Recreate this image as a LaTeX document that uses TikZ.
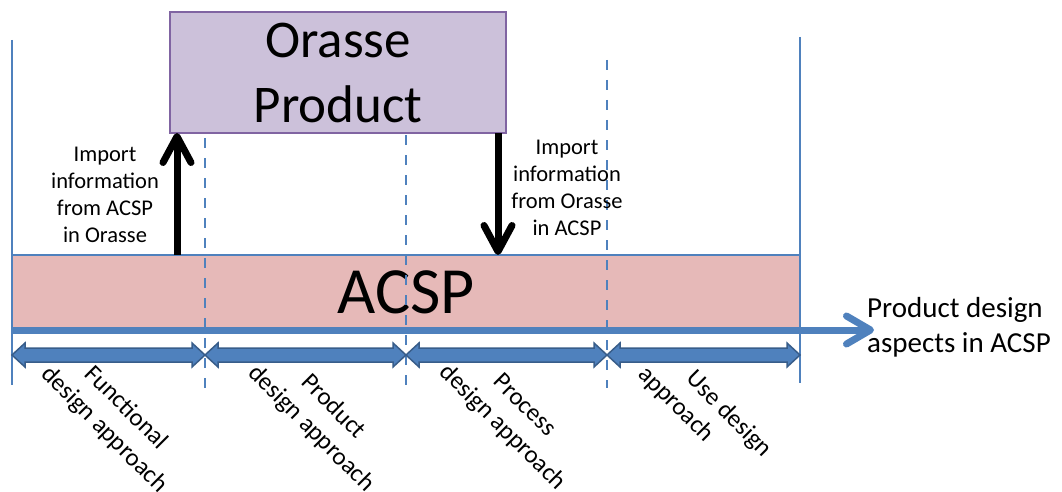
\documentclass[tikz,border=0pt]{standalone}
\usepackage{fontspec}
\setmainfont{Carlito}
\usetikzlibrary{arrows.meta}
\definecolor{acblue}{HTML}{4F81BD}
\definecolor{dkblue}{HTML}{385D8A}
\definecolor{lav}{HTML}{CCC1DA}
\definecolor{purp}{HTML}{8064A2}
\definecolor{pinkf}{HTML}{E6B9B8}
\tikzset{
  box/.style={draw, line width=2pt, outer sep=0pt, inner sep=0pt},
  solidline/.style={draw=acblue, line width=2.5pt},
  dashline/.style={draw=acblue, line width=2.7pt, dash pattern=on 10pt off 10pt},
  dblfill/.style={draw=dkblue, fill=acblue, line width=1.5pt, line join=miter},
  pics/dblarr/.style={code={
    \path[dblfill] (0,0) -- ++(13,-12) -- ++(0,5) -- ++(#1-26,0) -- ++(0,-5)
      -- ++(13,12) -- ++(-13,12) -- ++(0,-5) -- ++(-#1+26,0) -- ++(0,5) -- cycle;
  }},
  blk/.style={line width=7pt, -{Straight Barb[length=26pt,width=28pt,line cap=round,line join=round]}},
  bar/.style={draw=acblue, line width=7pt, -{Straight Barb[length=24pt,width=28pt,line cap=round,line join=round]}},
  small/.style={font=\fontsize{22.5}{27}\selectfont, align=center, inner sep=0pt},
  rot/.style={font=\fontsize{25}{31}\selectfont, align=center, inner sep=0pt, rotate=-45},
}
\begin{document}
\begin{tikzpicture}[x=1pt,y=-1pt]
\useasboundingbox (0,0) rectangle (1062,492);
% ACSP band
\node[box, draw=acblue, fill=pinkf, minimum width=788pt, minimum height=75pt,
  font=\fontsize{66}{79}\selectfont] (acsp) at (406,292.5) {ACSP};
% vertical lines
\draw[solidline] (12,40) -- (12,385);
\draw[solidline] (800,37) -- (800,383);
\draw[dashline] (205,138) -- (205,388);
\draw[dashline] (406,135) -- (406,388);
\draw[dashline] (607,60) -- (607,388);
% thick axis arrow
\coordinate (barend) at (874,330);
\draw[bar] (acsp.south west) -- (barend);
% double arrows
\pic (d1) at (12,355) {dblarr=193};
\pic (d2) at (205,355) {dblarr=201};
\pic (d3) at (406,355) {dblarr=201};
\pic (d4) at (607,355) {dblarr=193};
% Orasse box
\node[box, draw=purp, fill=lav, minimum width=336pt, minimum height=121pt,
  font=\fontsize{53}{65}\selectfont, align=center] (orasse) at (338,72.5) {Orasse\\Product};
% black arrows
\draw[blk] ([xshift=165pt]acsp.north west) -- ([xshift=7pt]orasse.south west);
\draw[blk] ([xshift=-8pt]orasse.south east) -- ([xshift=486pt]acsp.north west);
% labels
\node[small, anchor=north] (imp1) at (105,147) {Import\\information\\from ACSP\\in Orasse};
\node[small, anchor=north] (imp2) at (567,140) {Import\\information\\from Orasse\\in ACSP};
\node[font=\fontsize{29}{35}\selectfont, align=left, inner sep=0pt, anchor=north west]
  (aspects) at (867,297) {Product design\\aspects in ACSP};
\node[rot] (l1) at (115,419) {Functional\\design approach};
\node[rot] (l2) at (322,418) {Product\\design approach};
\node[rot] (l3) at (513,417) {Process\\design approach};
\node[rot, align=left] (l4) at (705,412) {\hspace*{37pt}Use design\\approach};
\end{tikzpicture}
\end{document}
